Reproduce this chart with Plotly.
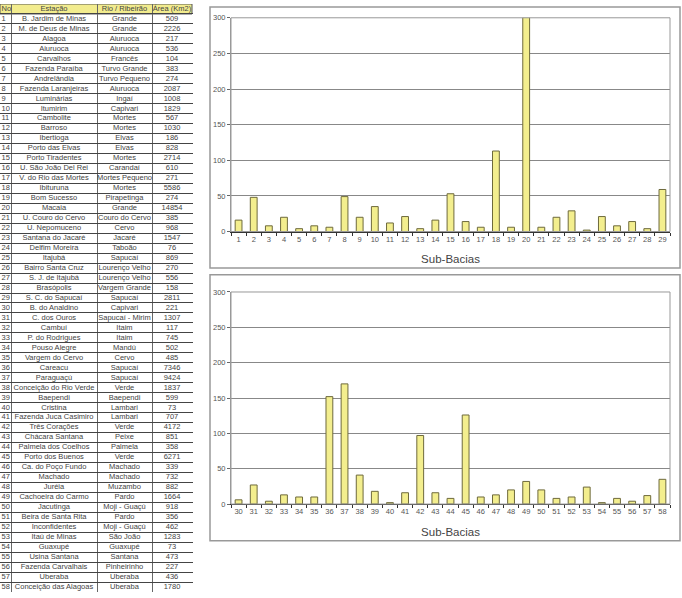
import plotly.graph_objects as go

numbers = list(range(1, 59))
estacoes = ["B. Jardim de Minas", "M. de Deus de Minas", "Alagoa", "Aiuruoca", "Carvalhos",
            "Fazenda Paraíba", "Andrelândia", "Fazenda Laranjeiras", "Luminárias", "Itumirim",
            "Cambolite", "Barroso", "Ibertioga", "Porto das Elvas", "Porto Tiradentes",
            "U. São João Del Rei", "V. do Rio das Mortes", "Ibituruna", "Bom Sucesso", "Macaia",
            "U. Couro do Cervo", "U. Nepomuceno", "Santana do Jacaré", "Delfim Moreira", "Itajubá",
            "Bairro Santa Cruz", "S. J. de Itajubá", "Brasópolis", "S. C. do Sapucaí", "B. do Analdino",
            "C. dos Ouros", "Cambuí", "P. do Rodrigues", "Pouso Alegre", "Vargem do Cervo",
            "Careacu", "Paraguaçú", "Conceição do Rio Verde", "Baependi", "Cristina",
            "Fazenda Juca Casimiro", "Três Corações", "Chácara Santana", "Palmela dos Coelhos",
            "Porto dos Buenos", "Ca. do Poço Fundo", "Machado", "Juréia", "Cachoeira do Carmo",
            "Jacutinga", "Beira de Santa Rita", "Inconfidentes", "Itaú de Minas", "Guaxupé",
            "Usina Santana", "Fazenda Carvalhais", "Uberaba", "Conceição das Alagoas"]
rios = ["Grande", "Grande", "Aiuruoca", "Aiuruoca", "Francês", "Turvo Grande", "Turvo Pequeno",
        "Aiuruoca", "Ingaí", "Capivari", "Mortes", "Mortes", "Elvas", "Elvas", "Mortes",
        "Carandaí", "Mortes Pequeno", "Mortes", "Pirapetinga", "Grande", "Couro do Cervo",
        "Cervo", "Jacaré", "Taboão", "Sapucaí", "Lourenço Velho", "Lourenço Velho",
        "Vargem Grande", "Sapucaí", "Capivari", "Sapucaí - Mirim", "Itaim", "Itaim", "Mandú",
        "Cervo", "Sapucaí", "Sapucaí", "Verde", "Baependi", "Lambari", "Lambari", "Verde",
        "Peixe", "Palmela", "Verde", "Machado", "Machado", "Muzambo", "Pardo", "Moji - Guaçú",
        "Pardo", "Moji - Guaçú", "São João", "Guaxupé", "Santana", "Pinheirinho", "Uberaba",
        "Uberaba"]
areas = [509, 2226, 217, 536, 104, 383, 274, 2087, 1008, 1829, 567, 1030, 186, 828, 2714,
         610, 271, 5586, 274, 14854, 385, 968, 1547, 76, 869, 270, 556, 158, 2811, 221,
         1307, 117, 745, 502, 485, 7346, 9424, 1837, 599, 73, 707, 4172, 851, 358, 6271,
         339, 732, 882, 1664, 918, 356, 462, 1283, 73, 473, 227, 436, 1780]
headers = ["No", "Estação", "Rio / Ribeirão", "Área (Km2)"]

cats1 = [str(i) for i in range(1, 30)]
vals1 = [16, 48, 8, 20, 4, 8, 6, 49, 20, 35, 12, 21, 4, 16, 53, 14, 6, 113, 6, 301,
         6, 20, 29, 2, 21, 8, 14, 4, 59]
cats2 = [str(i) for i in range(30, 59)]
vals2 = [6, 27, 4, 13, 10, 10, 152, 170, 41, 18, 2, 16, 97, 16, 8, 126, 10, 13, 20, 32,
         20, 8, 10, 24, 2, 8, 4, 12, 35]

W, H = 682, 598
FONT = "Liberation Sans, Arial"
fig = go.Figure()

# ---- table drawn on its own axes (x in table-pixel units, y = row index) ----
col_bounds = [0, 11, 97, 152, 192]
col_centers = [(col_bounds[i] + col_bounds[i + 1]) / 2 for i in range(4)]
n_rows = len(numbers)
tfont = dict(family=FONT, size=7.5, color="#444444")

columns = [numbers, estacoes, rios, areas]
for ci, col in enumerate(columns):
    if ci == 0:
        xs = [col_bounds[0] + 1.5] * n_rows
        pos = "middle right"
    else:
        xs = [col_centers[ci]] * n_rows
        pos = "middle center"
    fig.add_trace(go.Scatter(x=xs, y=numbers, text=[str(v) for v in col], mode="text",
                             textposition=pos, textfont=tfont, xaxis="x3", yaxis="y3",
                             showlegend=False, hoverinfo="skip", cliponaxis=False))
fig.add_trace(go.Scatter(x=[col_bounds[0] + 1.5] + col_centers[1:], y=[0] * 4, text=headers,
                         mode="text",
                         textposition=["middle right", "middle center", "middle center", "middle center"],
                         textfont=tfont, xaxis="x3", yaxis="y3",
                         showlegend=False, hoverinfo="skip", cliponaxis=False))

bar_style = dict(marker=dict(color="#f3ee8e", line=dict(color="#6e6a3c", width=1)),
                 width=0.45, showlegend=False, hoverinfo="skip", cliponaxis=False)
fig.add_trace(go.Bar(x=cats1, y=vals1, xaxis="x", yaxis="y", **bar_style))
fig.add_trace(go.Bar(x=cats2, y=vals2, xaxis="x2", yaxis="y2", **bar_style))

x0, x1 = 231 / W, 670 / W
d1 = [1 - 231 / H, 1 - 14 / H]
d2 = [1 - 507.7 / H, 1 - 292.4 / H]

xcommon = dict(type="category", range=[-0.5, 28.5], showline=True, linecolor="#333",
               linewidth=1, ticks="outside", tickson="boundaries", ticklen=3,
               tickcolor="#333", showgrid=False, tickangle=0,
               tickfont=dict(family=FONT, size=7.5, color="#555"),
               title=dict(text="Sub-Bacias", standoff=12,
                          font=dict(family=FONT, size=11.5, color="#444")))
ycommon = dict(range=[0, 300], dtick=50, showline=True, linecolor="#999", linewidth=1,
               ticks="outside", ticklen=3, tickcolor="#666", showgrid=True,
               gridcolor="#888", gridwidth=1, zeroline=False,
               tickfont=dict(family=FONT, size=7.5, color="#555"))

row_lines = [k + 0.5 for k in range(0, n_rows + 1)]

fig.update_layout(
    width=W, height=H, margin=dict(l=0, r=0, t=0, b=0),
    paper_bgcolor="white", plot_bgcolor="white", bargap=0.55,
    xaxis=dict(domain=[x0, x1], anchor="y", **xcommon),
    yaxis=dict(domain=d1, anchor="x", **ycommon),
    xaxis2=dict(domain=[x0, x1], anchor="y2", **xcommon),
    yaxis2=dict(domain=d2, anchor="x2", **ycommon),
    xaxis3=dict(domain=[0, 193 / W], range=[0, 193], anchor="y3", showticklabels=False,
                ticks="", showgrid=True, tickvals=col_bounds[1:4], gridcolor="#666",
                gridwidth=1, zeroline=False, showline=False, fixedrange=True),
    yaxis3=dict(domain=[1 - 597 / H, 1], range=[n_rows + 0.5, -0.5], anchor="x3",
                showticklabels=False, ticks="", showgrid=True, tickvals=row_lines,
                gridcolor="#444", gridwidth=1, zeroline=False, showline=False,
                fixedrange=True),
    shapes=[
        dict(type="rect", xref="x3", yref="y3", x0=0, x1=192, y0=-0.5, y1=0.5,
             fillcolor="#f2ec8e", line=dict(color="#555", width=1), layer="below"),
        dict(type="rect", xref="paper", yref="paper", x0=210 / W, x1=680 / W,
             y0=1 - 268 / H, y1=1 - 3 / H, line=dict(color="#999", width=1.5)),
        dict(type="rect", xref="paper", yref="paper", x0=210 / W, x1=680 / W,
             y0=1 - 545 / H, y1=1 - 275 / H, line=dict(color="#999", width=1.5)),
        dict(type="rect", xref="paper", yref="paper", x0=x0, x1=x1,
             y0=d1[0], y1=d1[1], line=dict(color="#999", width=1)),
        dict(type="rect", xref="paper", yref="paper", x0=x0, x1=x1,
             y0=d2[0], y1=d2[1], line=dict(color="#999", width=1)),
    ],
)

fig.write_html("out.html")
